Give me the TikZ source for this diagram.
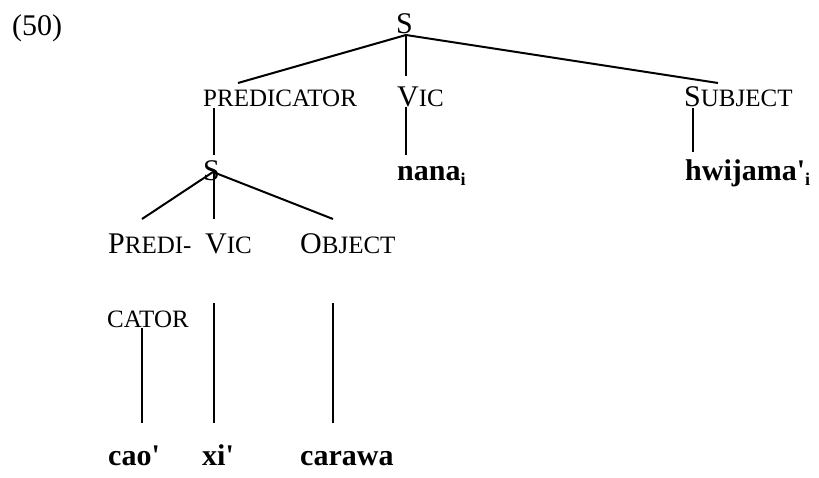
\documentclass[tikz,border=0pt]{standalone}
\usepackage{fontspec}
\setmainfont{Liberation Serif}
\newcommand\smc[1]{{\fontsize{25}{25}\selectfont #1}}
\newcommand\subi{\raisebox{-5pt}{\fontsize{18}{18}\selectfont\bfseries i}}
\newcommand\apos{\textquotesingle}
\begin{document}
\begin{tikzpicture}[x=1pt,y=-1pt,
  lbl/.style={inner sep=0pt,anchor=base west,font=\fontsize{30}{30}\selectfont},
  word/.style={lbl,font=\fontsize{30}{30}\selectfont\bfseries},
  branch/.style={line width=2pt}]
\path[use as bounding box] (0,0) rectangle (819,477);
% labels
\node[lbl] (ex) at (12,35) {(50)};
\node[lbl] (S1) at (396,33) {S};
\node[lbl] (pred) at (203,106) {\smc{PREDICATOR}};
\node[lbl] (vic1) at (397,106) {V\smc{IC}};
\node[lbl] (subj) at (684,106) {S\smc{UBJECT}};
\node[word] (nana) at (397,180) {nana\subi};
\node[word] (hwij) at (685,180) {hwijama\apos\subi};
\node[lbl] (S2) at (203,180) {S};
\node[lbl] (predi) at (108,253) {P\smc{REDI-}};
\node[lbl] (vic2) at (205,253) {V\smc{IC}};
\node[lbl] (obj) at (300,253) {O\smc{BJECT}};
\node[lbl] (cator) at (107,327) {\smc{CATOR}};
\node[word] (cao) at (108,465) {cao\apos};
\node[word] (xi) at (202,465) {xi\apos};
\node[word] (cara) at (300,465) {carawa};
% connector end points
\coordinate (s1j) at (406,35);
\coordinate (predT) at (238,83);
\coordinate (vic1T) at (406,76);
\coordinate (subjT) at (718,83);
\coordinate (predB) at (214,108);
\coordinate (s2T) at (214,155);
\coordinate (vic1B) at (406,107);
\coordinate (nanaT) at (406,155);
\coordinate (subjB) at (693,108);
\coordinate (hwijT) at (693,152);
\coordinate (s2j) at (213,172);
\coordinate (s2v) at (214,173);
\coordinate (prediT) at (142,219);
\coordinate (vic2T) at (214,219);
\coordinate (objT) at (333,219);
\coordinate (catorB) at (142,328);
\coordinate (caoT) at (142,423);
\coordinate (vic2B) at (214,303);
\coordinate (xiT) at (214,423);
\coordinate (objB) at (333,303);
\coordinate (caraT) at (333,423);
% branches
\draw[branch] (s1j) -- (predT);
\draw[branch] (s1j) -- (vic1T);
\draw[branch] (s1j) -- (subjT);
\draw[branch] (predB) -- (s2T);
\draw[branch] (vic1B) -- (nanaT);
\draw[branch] (subjB) -- (hwijT);
\draw[branch] (s2j) -- (prediT);
\draw[branch] (s2v) -- (vic2T);
\draw[branch] (s2j) -- (objT);
\draw[branch] (catorB) -- (caoT);
\draw[branch] (vic2B) -- (xiT);
\draw[branch] (objB) -- (caraT);
\end{tikzpicture}
\end{document}
